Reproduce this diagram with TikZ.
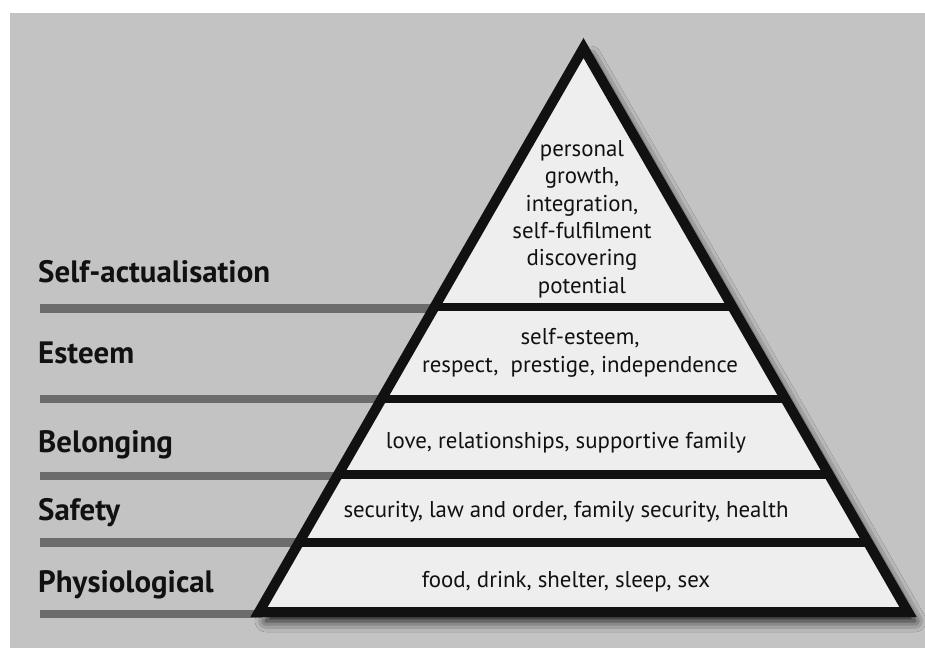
\documentclass[tikz,border=0pt]{standalone}
\usepackage{fontspec}
\setmainfont{PT Sans}
\usetikzlibrary{shadows.blur}
\definecolor{pagebg}{HTML}{C3C3C3}
\definecolor{barcol}{HTML}{6C6C6C}
\definecolor{pyrfill}{HTML}{EEEEEE}
\definecolor{ink}{HTML}{111111}
\newlength\mymeas
\newcommand\calcsize[3]{\settowidth\mymeas{\fontsize{10pt}{12pt}\selectfont #3}\pgfmathsetmacro#1{10*#2/\mymeas}}
\begin{document}
\calcsize\bodysz{445}{security, law and order, family security, health}%
\calcsize\labsz{232}{\bfseries Self-actualisation}%
\begin{tikzpicture}[x=1pt,y=-1pt,
  labeltext/.style={anchor=base west, inner sep=0pt, text=ink, font=\fontsize{\labsz}{\labsz}\selectfont\bfseries},
  bodytext/.style={anchor=base, inner sep=0pt, text=ink, align=center, font=\fontsize{\bodysz}{27.3}\selectfont},
  greybar/.style={draw=barcol, line width=8.5pt},
  divider/.style={draw=ink, line width=8.5pt},
]
\useasboundingbox (0,0) rectangle (925,648);
\fill[white] (0,0) rectangle (925,648);
\fill[pagebg] (10,13) rectangle (925,648);

% pyramid corners (centre line of outline)
\coordinate (apex) at (583.5,48);
\coordinate (bl) at (259,612);
\coordinate (br) at (908,612);

% grey bars
\foreach \n/\y in {1/308.5,2/399,3/476,4/542.5,5/614}{
  \coordinate (bar\n L) at (40,\y);
  \coordinate (bar\n R) at ({587.5-(\y-48)*0.5754},\y);
  \draw[greybar] (bar\n L) -- (bar\n R);
}

% pyramid body with shadow
\fill[pyrfill, blur shadow={shadow xshift=7pt, shadow yshift=-9pt, shadow blur radius=11pt, shadow opacity=95}]
  (apex) -- (bl) -- (br) -- cycle;

% dividers
\begin{scope}
  \clip (apex) -- (bl) -- (br) -- cycle;
  \foreach \n/\y in {1/307,2/399,3/474.5,4/542.5}{
    \coordinate (div\n L) at (240,\y);
    \coordinate (div\n R) at (930,\y);
    \draw[divider] (div\n L) -- (div\n R);
  }
\end{scope}

\draw[ink, line width=10pt, line join=miter] (apex) -- (bl) -- (br) -- cycle;

% labels
\node[labeltext] (lab1) at (38,282) {Self-actualisation};
\node[labeltext] (lab2) at (38,363) {Esteem};
\node[labeltext] (lab3) at (38,452) {Belonging};
\node[labeltext] (lab4) at (38,520) {Safety};
\node[labeltext] (lab5) at (38,592) {Physiological};

% layer texts (multi-line nodes: base = baseline of last line)
\node[bodytext] (t1) at (582,293) {personal\\growth,\\integration,\\self-fulfilment\\discovering\\potential};
\node[bodytext] (t2) at (580,372) {self-esteem,\\respect,\ \ prestige, independence};
\node[bodytext] (t3) at (566,448) {love, relationships, supportive family};
\node[bodytext] (t4) at (566,517) {security, law and order, family security, health};
\node[bodytext] (t5) at (566,587) {food, drink, shelter, sleep, sex};
\end{tikzpicture}
\end{document}
